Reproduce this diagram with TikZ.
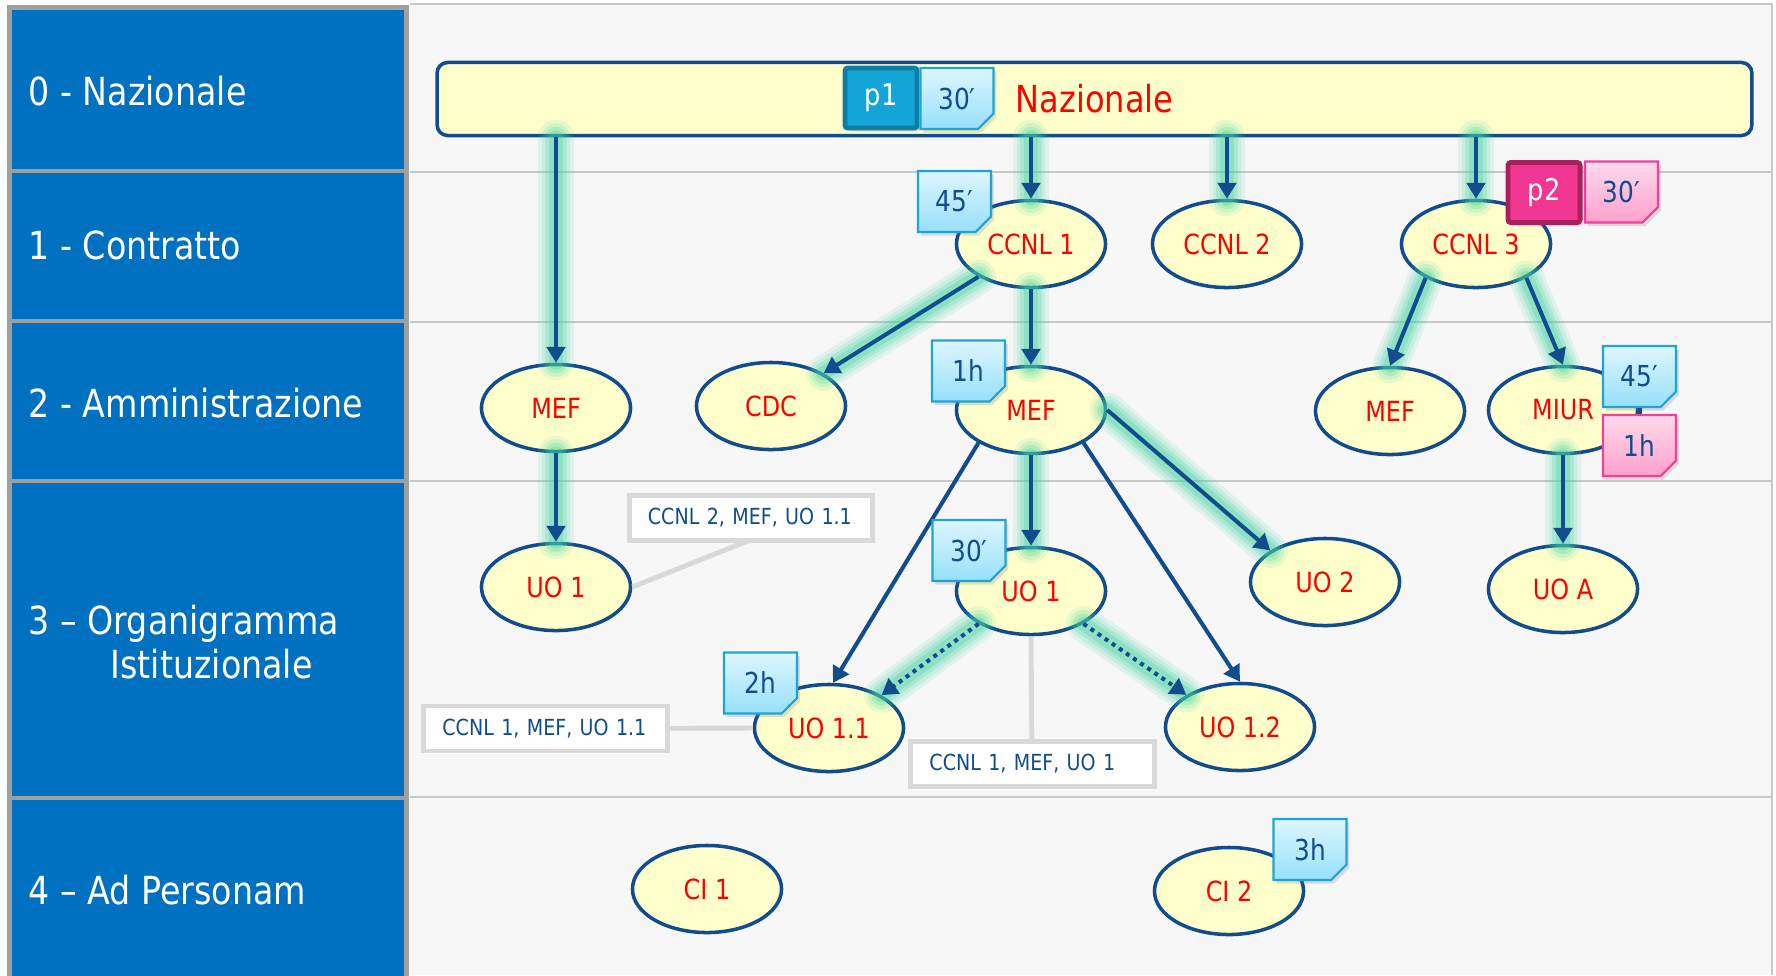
\documentclass[tikz,border=0pt]{standalone}
\usepackage{fontspec}
\setmainfont{DejaVu Sans}[FakeStretch=0.86]
\usetikzlibrary{arrows.meta,shapes.geometric,shapes.misc,shadows}

\definecolor{cellblue}{RGB}{0,112,192}
\definecolor{cellgray}{RGB}{160,160,160}
\definecolor{panelbg}{RGB}{247,247,247}
\definecolor{panelline}{RGB}{200,200,200}
\definecolor{navy}{RGB}{17,76,140}
\definecolor{nodefill}{RGB}{255,255,204}
\definecolor{glowc}{RGB}{70,212,165}
\definecolor{notetop}{RGB}{222,246,255}
\definecolor{notebot}{RGB}{150,224,250}
\definecolor{noteedge}{RGB}{30,165,216}
\definecolor{pinktop}{RGB}{255,218,236}
\definecolor{pinkbot}{RGB}{255,160,205}
\definecolor{pinkedge}{RGB}{240,64,154}
\definecolor{tagblue}{RGB}{20,165,214}
\definecolor{tagblueedge}{RGB}{14,125,165}
\definecolor{tagpink}{RGB}{240,56,146}
\definecolor{tagpinkedge}{RGB}{168,32,94}
\definecolor{boxgray}{RGB}{217,217,217}

\tikzset{
  rowlab/.style={anchor=west, text=white, inner sep=0pt, font=\fontsize{11}{12.5}\selectfont},
  bar/.style={rectangle, rounded corners=3pt, draw=navy, line width=1pt, fill=nodefill,
    minimum width=13.14cm, minimum height=0.73cm, text=red, font=\fontsize{10.6}{12}\selectfont},
  unit/.style={ellipse, draw=navy, line width=1pt, fill=nodefill, minimum width=1.49cm,
    minimum height=0.87cm, inner sep=0pt, text=red, font=\fontsize{7.9}{9}\selectfont},
  tag/.style={rectangle, line width=1.4pt, minimum width=0.72cm, minimum height=0.6cm,
    inner sep=0pt, text=white, font=\fontsize{8.5}{9}\selectfont, rounded corners=0.8pt,
    drop shadow={opacity=.25, shadow xshift=.8pt, shadow yshift=-1pt}},
  note/.style n args={3}{chamfered rectangle, chamfered rectangle corners=south east,
    chamfered rectangle xsep=2.2pt, chamfered rectangle ysep=2.2pt,
    minimum width=0.73cm, minimum height=0.61cm, inner sep=0pt, line width=0.6pt,
    draw=#1, top color=#2, bottom color=#3, text=navy, font=\fontsize{8.2}{9}\selectfont,
    drop shadow={opacity=.25, shadow xshift=.8pt, shadow yshift=-1pt},
    path picture={\fill[#1!60] ([xshift=-2.6pt]path picture bounding box.south east)
      -- ([yshift=2.6pt]path picture bounding box.south east)
      -- ([xshift=-2.6pt,yshift=2.6pt]path picture bounding box.south east) -- cycle;}},
  bluenote/.style={note={noteedge}{notetop}{notebot}},
  pinknote/.style={note={pinkedge}{pinktop}{pinkbot}},
  tagbox/.style={rectangle, draw=boxgray, line width=1.4pt, fill=white, text=navy,
    text width=2.06cm, align=left, inner xsep=0.185cm, minimum height=0.45cm,
    font=\fontsize{6.3}{7}\selectfont},
  tagline/.style={draw=boxgray, line width=1.4pt},
  arr/.style={draw=navy, line width=1.15pt, -{Triangle[length=4.5pt,width=5.2pt]}},
  dots/.style={dash pattern=on 1.15pt off 1.3pt},
  glow/.style={
    preaction={draw=glowc, -, solid, line cap=round, line width=10pt, draw opacity=.12},
    preaction={draw=glowc, -, solid, line cap=round, line width=8pt, draw opacity=.16},
    preaction={draw=glowc, -, solid, line cap=round, line width=6pt, draw opacity=.22},
    preaction={draw=glowc, -, solid, line cap=round, line width=4pt, draw opacity=.3}}
}

\begin{document}
\begin{tikzpicture}[x=0.01cm,y=-0.01cm]
	\useasboundingbox (0,0) rectangle (1776,975);
	% right panel
	\fill[panelbg] (410,3) rectangle (1773,975);
	\draw[panelline,line width=0.8pt] (410,4) -- (1772,4) -- (1772,975);
	\foreach \yy in {172,322,481,797}
		\draw[panelline,line width=0.8pt] (410,\yy) -- (1772,\yy);
	% left column
	\foreach \ya/\yb in {7.5/171,171/321,321/481,481/798,798/985}
		\draw[cellgray,fill=cellblue,line width=1.4pt] (9.5,\ya) rectangle (406.5,\yb);
	\node[rowlab] (r0) at (28,91) {0 - Nazionale};
	\node[rowlab] (r1) at (28,245) {1 - Contratto};
	\node[rowlab] (r2) at (28,403) {2 - Amministrazione};
	\node[rowlab,align=left] (r3) at (28,642) {3 – Organigramma\\\hspace*{0.82cm}Istituzionale};
	\node[rowlab] (r4) at (28,890) {4 – Ad Personam};

	\node[bar] (naz) at (1094.5,99) {Nazionale};

    \node[unit] (ccnl1) at (1031,244) {CCNL 1};
    \node[unit] (ccnl2) at (1227,244) {CCNL 2};
    \node[unit] (ccnl3) at (1476,244) {CCNL 3};
    \node[unit] (mefL) at (556,408) {MEF};
    \node[unit] (cdc) at (771,406) {CDC};
    \node[unit] (mefC) at (1031,410) {MEF};
    \node[unit] (mefR) at (1390,411) {MEF};
    \node[unit] (miur) at (1563,410) {MIUR};
    \node[unit] (uo1L) at (556,587) {UO 1};
    \node[unit] (uo1C) at (1031,591) {UO 1};
    \node[unit] (uo2) at (1325,582) {UO 2};
    \node[unit] (uoA) at (1563,589) {UO A};
    \node[unit] (uo11) at (829,728) {UO 1.1};
    \node[unit] (uo12) at (1240,727) {UO 1.2};
    \node[unit] (ci1) at (707,889) {CI 1};
    \node[unit] (ci2) at (1229,891) {CI 2};

    \draw[tagline] (750,540) -- (uo1L.east);
    \draw[tagline] (600,728.5) -- (uo11.west);
    \draw[tagline] (1032,760) -- (uo1C.south);
    \node[tagbox] (lb1) at (751,518) {CCNL 2, MEF, UO 1.1};
    \node[tagbox] (lb2) at (545.5,728.5) {CCNL 1, MEF, UO 1.1};
    \node[tagbox] (lb3) at (1032.5,764) {CCNL 1, MEF, UO 1};

	\draw[arr,glow] (mefL |- naz.south) -- (mefL.north);
	\draw[arr,glow] (ccnl1 |- naz.south) -- (ccnl1.north);
	\draw[arr,glow] (ccnl2 |- naz.south) -- (ccnl2.north);
	\draw[arr,glow] (ccnl3 |- naz.south) -- (ccnl3.north);
	\draw[arr,glow] (ccnl1) -- (cdc);
	\draw[arr,glow] (ccnl1) -- (mefC);
	\draw[arr,glow] (ccnl3.214) -- (mefR.north);
	\draw[arr,glow] (ccnl3.326) -- (miur.north);
	\draw[arr,glow] (mefL) -- (uo1L);
	\draw[arr,glow] (mefC) -- (uo1C);
	\draw[arr,glow] (mefC.east) -- (uo2.150);
	\draw[arr] (mefC.212) -- (uo11.85);
	\draw[arr] (mefC.328) -- (uo12.north);
	\draw[arr,glow,dots] (uo1C.212) -- (uo11.32);
	\draw[arr,glow,dots] (uo1C.328) -- (uo12.149);
	\draw[arr,glow] (miur) -- (uoA);

    \node[tag,fill=tagblue,draw=tagblueedge] (p1) at (881,98) {p1};
    \node[bluenote] (t30a) at (957,98.5) {30′};
    \node[tag,fill=tagpink,draw=tagpinkedge] (p2) at (1544,192.5) {p2};
    \node[pinknote] (t30p) at (1621.5,192) {30′};
    \node[bluenote] (t45a) at (954.5,201.5) {45′};
    \node[bluenote] (t1ha) at (968.5,371) {1h};
    \node[bluenote] (t45b) at (1639.5,376.5) {45′};
    \node[pinknote] (t1hb) at (1639.5,445.5) {1h};
    \node[bluenote] (t30b) at (969,550.5) {30′};
    \node[bluenote] (t2h) at (760.5,683) {2h};
    \node[bluenote] (t3h) at (1310,849.5) {3h};
    \draw[navy,line width=1.15pt] (t45b.south) -- (t1hb.north);
\end{tikzpicture}
\end{document}
